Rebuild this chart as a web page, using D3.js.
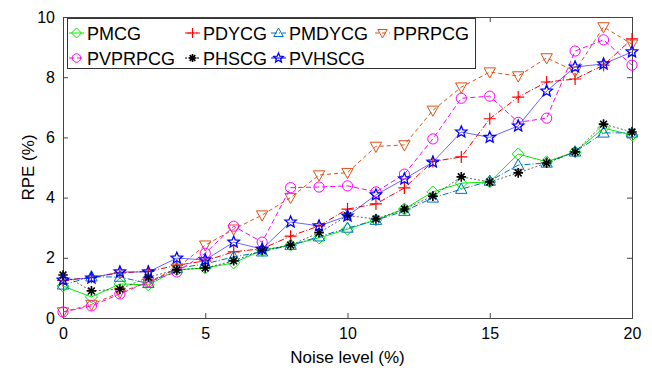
<!DOCTYPE html>
<html>
<head>
<meta charset="utf-8">
<script src="https://cdn.jsdelivr.net/npm/d3@7"></script>
<style>
  body { margin: 0; background: #fff; }
  text { font-family: "Liberation Sans", Arial, sans-serif; }
</style>
</head>
<body>
<div id="chart"></div>
<script>
// noise levels
var noise = d3.range(0, 21);

var pmcg    = [1.06, 0.7, 1.13, 1.1, 1.6, 1.66, 1.83, 2.25, 2.42, 2.66, 2.95, 3.26, 3.62, 4.19, 4.48, 4.52, 5.45, 5.19, 5.52, 6.31, 6.08];
var pdycg   = [1.25, 1.35, 1.5, 1.55, 1.75, 1.9, 2.2, 2.3, 2.72, 3.06, 3.62, 3.79, 4.32, 5.2, 5.35, 6.62, 7.34, 7.84, 7.94, 8.4, 9.27];
var pmdycg  = [1.1, 1.37, 1.36, 1.15, 1.65, 1.8, 2.03, 2.2, 2.42, 2.7, 2.99, 3.25, 3.55, 3.99, 4.28, 4.55, 5.08, 5.15, 5.52, 6.15, 6.15];
var pprpcg  = [0.2, 0.45, 0.85, 1.2, 1.65, 2.42, 2.95, 3.42, 4.0, 4.75, 4.83, 5.7, 5.75, 6.9, 7.67, 8.17, 8.04, 8.64, 8.2, 9.67, 9.1];
var pvprpcg = [0.2, 0.4, 0.8, 1.2, 1.53, 2.15, 3.05, 2.52, 4.33, 4.35, 4.39, 4.19, 4.78, 5.95, 7.3, 7.37, 6.5, 6.64, 8.87, 9.24, 8.4];
var phscg   = [1.43, 0.9, 0.96, 1.36, 1.6, 1.66, 1.9, 2.25, 2.42, 2.83, 3.4, 3.29, 3.62, 4.05, 4.69, 4.52, 4.82, 5.15, 5.52, 6.44, 6.18];
var pvhscg  = [1.26, 1.33, 1.53, 1.53, 1.99, 1.93, 2.52, 2.29, 3.19, 3.06, 3.39, 4.09, 4.62, 5.18, 6.18, 6.0, 6.38, 7.54, 8.34, 8.44, 8.84];

var xTicks = [0, 5, 10, 15, 20];
var yTicks = [0, 2, 4, 6, 8, 10];

var series = [
  { name: "PMCG",    values: pmcg,    color: "#00ee00", dash: null,    marker: "diamond" },
  { name: "PDYCG",   values: pdycg,   color: "#ff0000", dash: "6,2,1,2", marker: "plus" },
  { name: "PMDYCG",  values: pmdycg,  color: "#0072bd", dash: "6,2,1,2", marker: "triangle" },
  { name: "PPRPCG",  values: pprpcg,  color: "#d95319", dash: "4,3",   marker: "tridown" },
  { name: "PVPRPCG", values: pvprpcg, color: "#ff00ff", dash: "5,3",   marker: "circle" },
  { name: "PHSCG",   values: phscg,   color: "#000000", dash: "2,2",   marker: "asterisk" },
  { name: "PVHSCG",  values: pvhscg,  color: "#0000ff", dash: null,    marker: "star" }
];

var W = 652, H = 372;
var margin = { top: 17, right: 20, bottom: 54, left: 63 },
    width = W - margin.left - margin.right,
    height = H - margin.top - margin.bottom;

var svg = d3.select("#chart").append("svg")
  .attr("width", W).attr("height", H);
var g = svg.append("g")
  .attr("transform", "translate(" + margin.left + "," + margin.top + ")");

var x = d3.scaleLinear().domain([0, 20]).range([0, width]);
var y = d3.scaleLinear().domain([0, 10]).range([height, 0]);

// axes (box with inward ticks)
var axisColor = "#444";
g.append("g").attr("transform", "translate(0," + height + ")")
  .call(d3.axisBottom(x).tickValues(xTicks).tickSize(-5).tickPadding(10));
g.append("g")
  .call(d3.axisLeft(y).tickValues(yTicks).tickSize(-5).tickPadding(8));
g.append("g")
  .call(d3.axisTop(x).tickValues(xTicks).tickSize(-5).tickFormat(""));
g.append("g").attr("transform", "translate(" + width + ",0)")
  .call(d3.axisRight(y).tickValues(yTicks).tickSize(-5).tickFormat(""));
g.selectAll(".domain, .tick line").attr("stroke", axisColor);
g.selectAll(".tick text").attr("font-size", 16).attr("fill", "#000")
  .style("font-family", '"Liberation Sans", Arial, sans-serif');

// axis titles
svg.append("text").attr("x", margin.left + width / 2).attr("y", 363)
  .attr("text-anchor", "middle").attr("font-size", 17).text("Noise level (%)");
svg.append("text").attr("transform", "translate(34," + (margin.top + height / 2) + ") rotate(-90)")
  .attr("text-anchor", "middle").attr("font-size", 17).text("RPE (%)");

// marker drawing
function drawMarker(sel, type, color, size) {
  var s = size;
  if (type === "diamond") {
    sel.append("path").attr("d", "M0," + (-s) + "L" + s + ",0L0," + s + "L" + (-s) + ",0Z")
      .attr("fill", "none").attr("stroke", color).attr("stroke-width", 1);
  } else if (type === "plus") {
    sel.append("path").attr("d", "M" + (-s) + ",0H" + s + "M0," + (-s) + "V" + s)
      .attr("stroke", color).attr("stroke-width", 1.2);
  } else if (type === "triangle") {
    sel.append("path").attr("d", "M0," + (-s) + "L" + (s * 0.95) + "," + (s * 0.7) + "L" + (-s * 0.95) + "," + (s * 0.7) + "Z")
      .attr("fill", "none").attr("stroke", color).attr("stroke-width", 1);
  } else if (type === "tridown") {
    sel.append("path").attr("d", "M0," + s + "L" + (s * 0.95) + "," + (-s * 0.7) + "L" + (-s * 0.95) + "," + (-s * 0.7) + "Z")
      .attr("fill", "none").attr("stroke", color).attr("stroke-width", 1);
  } else if (type === "circle") {
    sel.append("circle").attr("r", s * 0.85)
      .attr("fill", "none").attr("stroke", color).attr("stroke-width", 1);
  } else if (type === "asterisk") {
    var d = "";
    [0, 45, 90, 135].forEach(function (a) {
      var r = a * Math.PI / 180, dx = Math.cos(r) * s * 0.8, dy = Math.sin(r) * s * 0.8;
      d += "M" + (-dx) + "," + (-dy) + "L" + dx + "," + dy;
    });
    sel.append("path").attr("d", d).attr("stroke", color).attr("stroke-width", 1.6);
  } else if (type === "star") {
    var pts = [];
    for (var i = 0; i < 10; i++) {
      var rr = i % 2 === 0 ? s : s * 0.45;
      var ang = -Math.PI / 2 + i * Math.PI / 5;
      pts.push([Math.cos(ang) * rr, Math.sin(ang) * rr]);
    }
    sel.append("path").attr("d", "M" + pts.join("L") + "Z")
      .attr("fill", "none").attr("stroke", color).attr("stroke-width", 1.3);
  }
}

var line = d3.line()
  .x(function (d, i) { return x(noise[i]); })
  .y(function (d) { return y(d); });

series.forEach(function (s) {
  g.append("path").datum(s.values)
    .attr("fill", "none")
    .attr("stroke", s.color)
    .attr("stroke-width", 1)
    .attr("stroke-opacity", s.name === "PVHSCG" || s.name === "PHSCG" ? 0.6 : 1)
    .attr("stroke-dasharray", s.dash)
    .attr("d", line);
  s.values.forEach(function (v, i) {
    var m = g.append("g").attr("transform", "translate(" + x(noise[i]) + "," + y(v) + ")");
    drawMarker(m, s.marker, s.color, 6);
  });
});

// legend
var lg = svg.append("g");
lg.append("rect").attr("x", 67.5).attr("y", 18.5).attr("width", 408).attr("height", 50)
  .attr("fill", "#fff").attr("stroke", "#333").attr("stroke-width", 1);
var legendPos = [[68, 33], [184, 33], [270, 33], [374, 33], [68, 58], [184, 58], [270, 58]];
series.forEach(function (s, i) {
  var p = legendPos[i];
  var item = lg.append("g").attr("transform", "translate(" + p[0] + "," + p[1] + ")");
  item.append("line").attr("x1", 1).attr("x2", 16).attr("y1", 0).attr("y2", 0)
    .attr("stroke", s.color).attr("stroke-dasharray", s.dash).attr("stroke-width", 1);
  var m = item.append("g").attr("transform", "translate(8.5,0)");
  drawMarker(m, s.marker, s.color, 5);
  item.append("text").attr("x", 19).attr("y", 6.5).attr("font-size", 18).text(s.name);
});
</script>
</body>
</html>
